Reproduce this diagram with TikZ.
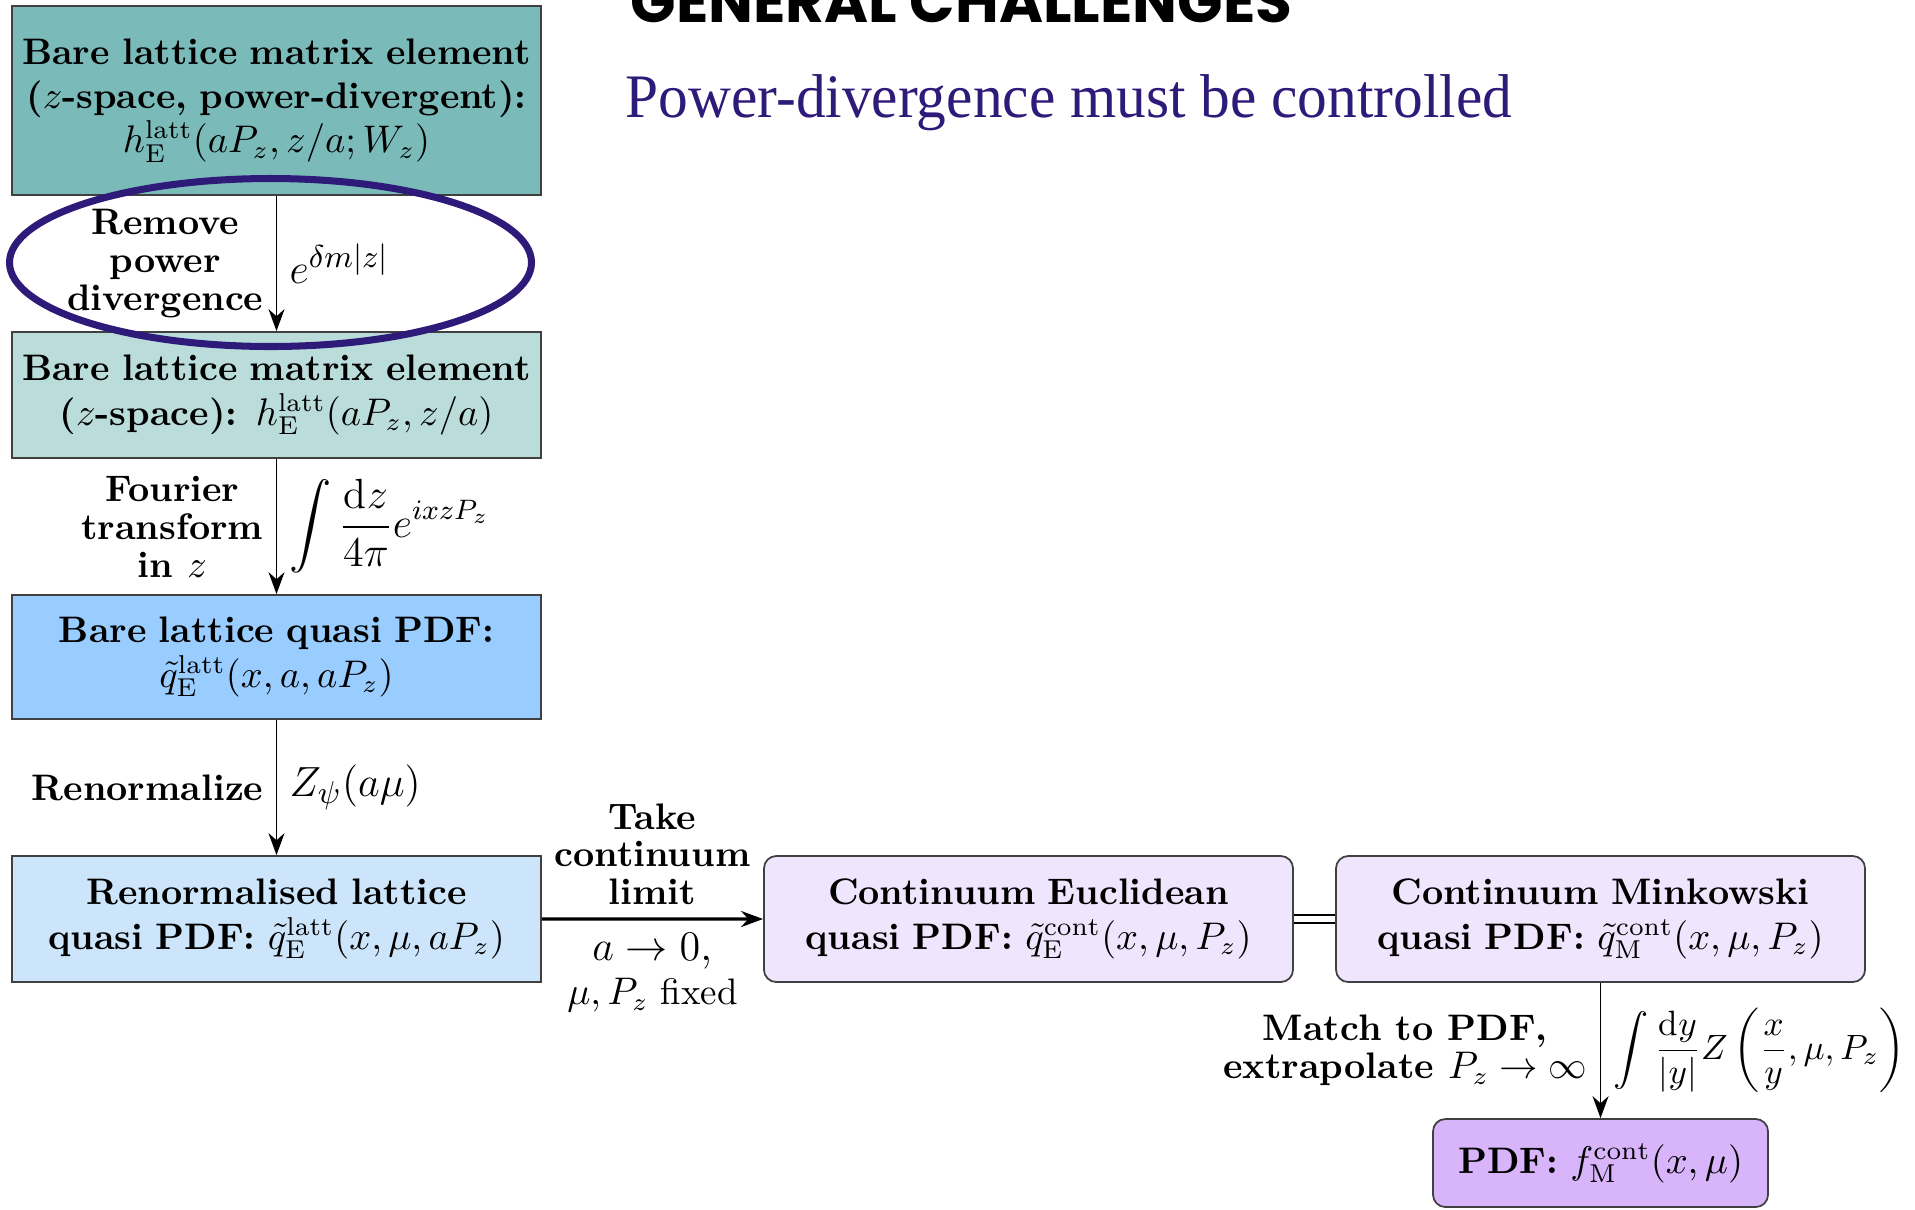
\documentclass[tikz,border=0pt]{standalone}
\usepackage{amsmath,amssymb}
\usepackage{fontspec}
\usepackage{graphicx}
\usetikzlibrary{shapes.geometric, arrows.meta, positioning, calc}
\newfontfamily\titlefont{Poppins}
\newfontfamily\headfont{Liberation Serif}
\definecolor{tealdark}{RGB}{122,187,186}
\definecolor{teallight}{RGB}{186,221,219}
\definecolor{bluemid}{RGB}{153,204,255}
\definecolor{bluelight}{RGB}{204,229,250}
\definecolor{lilaclight}{RGB}{239,229,252}
\definecolor{lilacmid}{RGB}{216,180,250}
\definecolor{deeppurple}{RGB}{46,26,120}
\tikzset{
	block/.style={rectangle, draw=black!75, line width=0.5pt, text width=5.15cm, minimum width=5.27cm, minimum height=1.26cm, align=center, font=\bfseries, inner sep=2pt},
	roundblock/.style={block, rounded corners=3.5pt},
	flow/.style={draw, line width=0.5pt, -{Stealth[length=2.2mm, width=1.6mm]}}
}
\begin{document}
\fontsize{10.5pt}{12.6pt}\selectfont
\begin{tikzpicture}[
	steplabel/.style={font=\fontsize{10.5pt}{10.8pt}\selectfont\bfseries, align=center},
	formula/.style={font=\fontsize{12.8pt}{15pt}\selectfont}
	]
	\useasboundingbox (0,0) rectangle (19.15,-12.09);
	
	% Slide heading (cut off at the top)
	\node[anchor=base west, inner sep=0, font=\titlefont\bfseries\fontsize{17pt}{17pt}\selectfont] (heading) at (6.30,-0.22) {GENERAL CHALLENGES};
	\node[anchor=base west, inner sep=0, text=deeppurple, font=\headfont\fontsize{17.6pt}{20pt}\selectfont] (subheading) at (6.25,-1.17) {\scalebox{0.96}[1]{Power-divergence must be controlled}};
	
	% Lattice column (left)
	\node[block, fill=tealdark, minimum height=1.89cm] (bare_matrix) at (2.765,-1.005) {Bare lattice matrix element\\($z$-space, power-divergent):\\$h^{\mathrm{latt}}_{\mathrm{E}}(aP_z,z/a;W_z)$};
	\node[block, fill=teallight] (bare_matrix_z) at ($(bare_matrix)+(0,-2.945)$) {Bare lattice matrix element\\($z$-space): $h^{\mathrm{latt}}_{\mathrm{E}}(aP_z,z/a)$};
	\node[block, fill=bluemid, minimum height=1.24cm] (bare_quasi) at ($(bare_matrix_z)+(0,-2.62)$) {Bare lattice quasi PDF:\\$\tilde{q}^{\mathrm{latt}}_{\mathrm{E}}(x,a,aP_z)$};
	\node[block, fill=bluelight] (renorm_quasi) at ($(bare_quasi)+(0,-2.62)$) {Renormalised lattice\\quasi PDF: $\tilde{q}^{\mathrm{latt}}_{\mathrm{E}}(x,\mu,aP_z)$};
	
	% Continuum row (bottom)
	\node[roundblock, fill=lilaclight, minimum width=5.25cm] (cont_euclid) at (10.285,-9.19) {Continuum Euclidean\\quasi PDF: $\tilde{q}^{\mathrm{cont}}_{\mathrm{E}}(x,\mu,P_z)$};
	\node[roundblock, fill=lilaclight] (cont_minkowski) at (16.005,-9.19) {Continuum Minkowski\\quasi PDF: $\tilde{q}^{\mathrm{cont}}_{\mathrm{M}}(x,\mu,P_z)$};
	\node[roundblock, fill=lilacmid, text width=3.2cm, minimum width=3.35cm, minimum height=0.88cm] (pdf) at ($(cont_minkowski)+(0,-2.44)$) {PDF: $f^{\mathrm{cont}}_{\mathrm{M}}(x,\mu)$};
	
	% steps down the lattice column
	\draw[flow] (bare_matrix) -- node[left, steplabel] {Remove\\power\\divergence} node[right, formula] {$e^{\delta m|z|}$} (bare_matrix_z);
	\draw[flow] (bare_matrix_z) -- node[left, steplabel] {Fourier\\transform\\in $z$} node[right, formula, font=\large] {$\displaystyle\int\frac{\mathrm{d}z}{4\pi}e^{ixzP_z}$} (bare_quasi);
	\draw[flow] (bare_quasi) -- node[left, steplabel] {Renormalize} node[right, formula] {$Z_\psi(a\mu)$} (renorm_quasi);
	
	% continuum limit and matching
	\draw[flow, line width=0.9pt] (renorm_quasi) -- node[above, steplabel] {Take\\continuum\\limit} node[below, align=center] {{\fontsize{12.8pt}{14pt}\selectfont $a\to0$,}\\$\mu,P_z$ fixed} (cont_euclid);
	\draw[double, double distance=1.6pt, line width=0.5pt] (cont_euclid) -- (cont_minkowski);
	\draw[flow] (cont_minkowski) -- node[left, steplabel] {Match to PDF,\\extrapolate $P_z\to\infty$} node[right, formula, font=\normalsize] {$\displaystyle\int\frac{\mathrm{d}y}{|y|}Z\left(\frac{x}{y},\mu,P_z\right)$} (pdf);
	
	% highlight of the power-divergence step
	\node[ellipse, draw=deeppurple, line width=2pt, minimum width=5.22cm, minimum height=1.68cm] (highlight) at (2.705,-2.625) {};
	
\end{tikzpicture}
\end{document}
